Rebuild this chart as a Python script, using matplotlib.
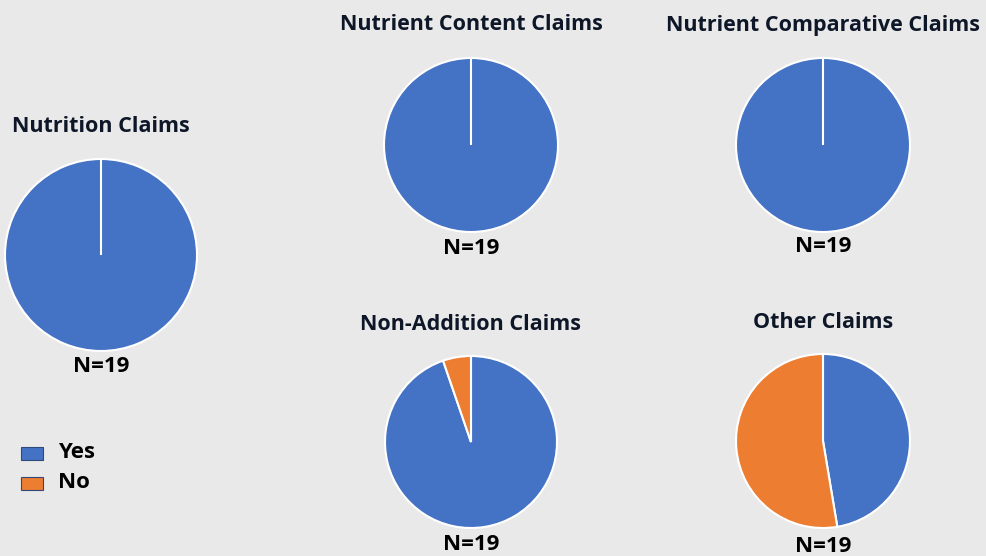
import matplotlib.pyplot as plt

titles = ["Nutrition Claims", "Nutrient Content Claims", "Nutrient Comparative Claims",
          "Non-Addition Claims", "Other Claims"]
yes = [19, 19, 19, 18, 9]
no = [0, 0, 0, 1, 10]
n_labels = ["N=19", "N=19", "N=19", "N=19", "N=19"]
legend_labels = ["Yes", "No"]

colors = ["#4472C4", "#ED7D31"]
bg = "#E9E9E9"

W, H = 986, 556
plt.rcParams['font.family'] = ['Open Sans', 'DejaVu Sans']
fig = plt.figure(figsize=(W / 100, H / 100), dpi=100, facecolor=bg)

# pixel layout: (center x, center y, radius, title y, N y)
layout = [
    (101, 255, 96, 126, 367),
    (471, 145, 87, 25, 249),
    (823, 145, 87, 25, 246),
    (471, 442, 86, 325, 544),
    (823, 441, 87, 322, 546),
]

for i, (cx, cy, r, ty, ny) in enumerate(layout):
    ax = fig.add_axes([(cx - r) / W, 1 - (cy + r) / H, 2 * r / W, 2 * r / H])
    ax.pie([yes[i], no[i]], colors=colors, startangle=90, counterclock=False,
           radius=1, wedgeprops=dict(edgecolor="white", linewidth=1.5))
    ax.set_xlim(-1.0, 1.0)
    ax.set_ylim(-1.0, 1.0)
    ax.set_aspect('auto')
    ax.axis('off')
    fig.text(cx / W, 1 - ty / H, titles[i], ha='center', va='center',
             fontsize=15.5, fontweight='bold', color="#0E1728")
    fig.text(cx / W, 1 - ny / H, n_labels[i], ha='center', va='center',
             fontsize=16, fontweight='bold', color="black")

# legend
for j, lab in enumerate(legend_labels):
    y = 453 + 30 * j
    fig.patches.append(plt.Rectangle((21 / W, 1 - (y + 7) / H), 22 / W, 13 / H,
                                     transform=fig.transFigure, facecolor=colors[j],
                                     edgecolor="#2F4A7A", linewidth=0.8))
    fig.text(58 / W, 1 - y / H, lab, ha='left', va='center',
             fontsize=16, fontweight='bold', color="black")

fig.savefig("out.png", dpi=100, facecolor=bg)
